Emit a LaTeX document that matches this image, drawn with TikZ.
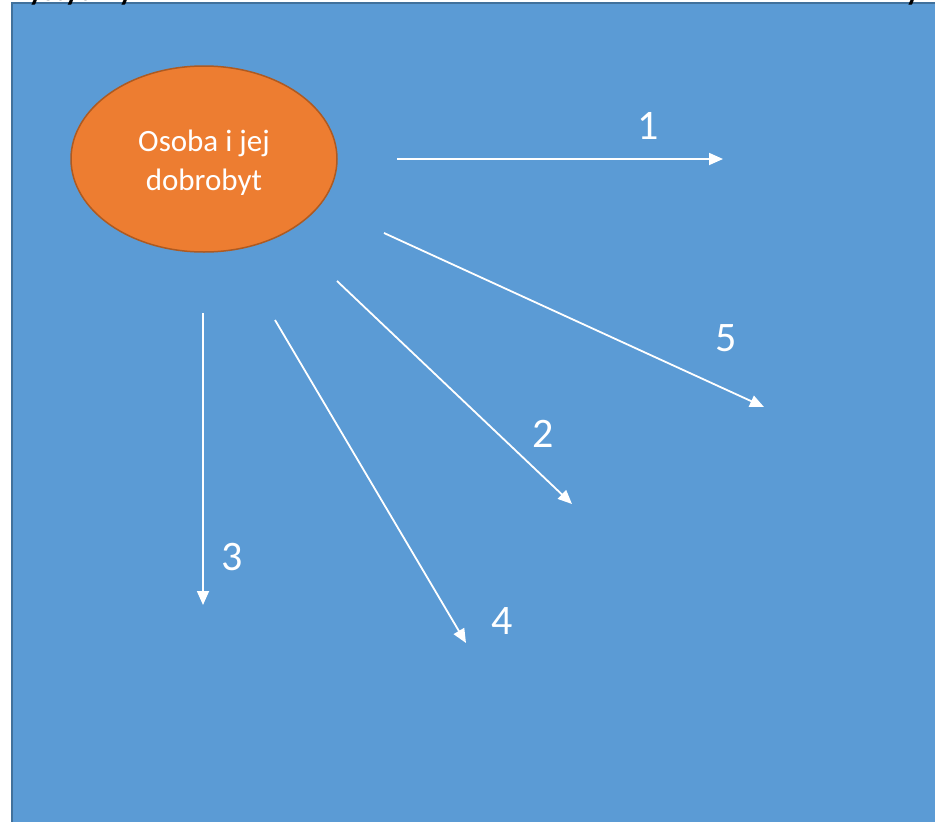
\documentclass[tikz,border=0pt]{standalone}
\usepackage{fontspec}
\setmainfont{Carlito}
\usetikzlibrary{arrows.meta,shapes.geometric}
\definecolor{bgblue}{HTML}{5B9BD5}
\definecolor{bgborder}{HTML}{41719C}
\definecolor{orangefill}{HTML}{ED7D31}
\definecolor{orangeborder}{HTML}{AE5A21}
\tikzset{
  arr/.style={draw=white, line width=1.8pt, -{Triangle[length=14pt,width=12pt]}},
  num/.style={text=white, font=\fontsize{42}{46}\selectfont, inner sep=0pt},
}
\begin{document}
\begin{tikzpicture}[x=1pt,y=-1pt]
\useasboundingbox (0,0) rectangle (935,822);
\fill[white] (0,0) rectangle (935,822);
\draw[fill=bgblue, draw=bgborder, line width=2pt] (12,3) rectangle (960,850);
\node[anchor=base east, inner sep=0pt, font=\bfseries\fontsize{30}{32}\selectfont] (cut1) at (133,0) {ystyczny};
\node[anchor=base east, inner sep=0pt, font=\bfseries\fontsize{30}{32}\selectfont] (cut2) at (920,0) {y};
\node[ellipse, fill=orangefill, draw=orangeborder, line width=1.5pt,
      minimum width=266pt, minimum height=186pt] (e) at (204,159) {};
\node[text=white, align=center, inner sep=0pt,
      font=\fontsize{31}{39}\selectfont] (etxt) at (204,163) {Osoba i jej\\dobrobyt};
\coordinate (s1) at (397,159); \coordinate (t1) at (723,159);
\coordinate (s5) at (384,233); \coordinate (t5) at (764,407);
\coordinate (s2) at (337,281); \coordinate (t2) at (572,504);
\coordinate (s4) at (275,320); \coordinate (t4) at (466,643);
\coordinate (s3) at (203,313); \coordinate (t3) at (203,605);
\draw[arr] (s1) -- (t1);
\draw[arr] (s5) -- (t5);
\draw[arr] (s2) -- (t2);
\draw[arr] (s4) -- (t4);
\draw[arr] (s3) -- (t3);
\node[num] (n1) at (648,126) {1};
\node[num] (n5) at (726,338) {5};
\node[num] (n2) at (543,434) {2};
\node[num] (n4) at (502,621) {4};
\node[num] (n3) at (232,557) {3};
\end{tikzpicture}
\end{document}
